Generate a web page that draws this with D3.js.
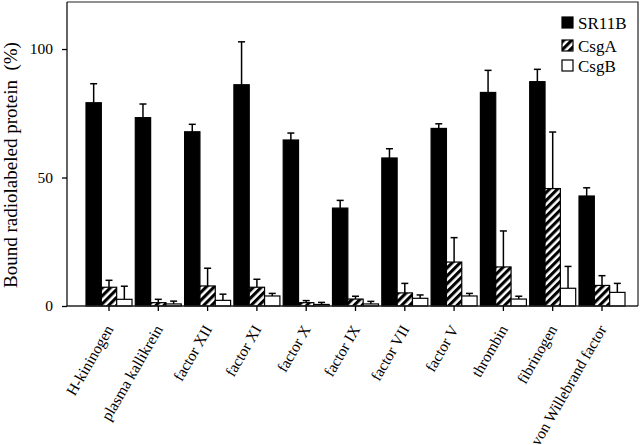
<!DOCTYPE html>
<html>
<head>
<meta charset="utf-8">
<script src="https://cdn.jsdelivr.net/npm/d3@7/dist/d3.min.js"></script>
<style>
  html, body { margin: 0; padding: 0; background: #fff; }
  svg { display: block; font-family: "Liberation Serif", "Times New Roman", serif; }
</style>
</head>
<body>
<svg id="chart" width="640" height="445"></svg>
<script>
const categories = ["H-kininogen", "plasma kallikrein", "factor XII", "factor XI", "factor X",
  "factor IX", "factor VII", "factor V", "thrombin", "fibrinogen", "von Willebrand factor"];
const seriesNames = ["SR11B", "CsgA", "CsgB"];
const sr11bValues = [79.1, 73.3, 67.8, 86.1, 64.6, 38.1, 57.6, 69.1, 83.1, 87.3, 42.8];
const sr11bErrors = [7.4, 5.3, 2.9, 16.7, 2.7, 3.0, 3.6, 1.8, 8.6, 4.8, 3.2];
const csgAValues = [7.3, 1.3, 7.8, 7.3, 1.3, 2.7, 5.1, 17.1, 15.2, 45.7, 8.0];
const csgAErrors = [2.7, 1.3, 6.9, 3.1, 0.8, 1.1, 3.7, 9.5, 14.0, 22.0, 3.8];
const csgBValues = [2.6, 0.8, 2.2, 3.9, 0.6, 0.8, 3.0, 3.9, 2.7, 6.9, 5.3];
const csgBErrors = [5.1, 1.1, 2.4, 1.0, 0.8, 1.0, 1.3, 1.0, 1.1, 8.5, 3.5];
const yTicks = [0, 50, 100];
const yLabel = "Bound radiolabeled protein\u00a0 (%)";

const seriesValues = [sr11bValues, csgAValues, csgBValues];
const seriesErrors = [sr11bErrors, csgAErrors, csgBErrors];
const fills = ["#000", "url(#hatch)", "#fff"];

const svg = d3.select("#chart");
const mLeft = 67, mRight = 638, mTop = 2, mBottom = 306;

const defs = svg.append("defs");
const pat = defs.append("pattern")
  .attr("id", "hatch").attr("patternUnits", "userSpaceOnUse")
  .attr("width", 5.6).attr("height", 5.6)
  .attr("patternTransform", "rotate(45)");
pat.append("rect").attr("width", 5.6).attr("height", 5.6).attr("fill", "#fff");
pat.append("rect").attr("width", 3.1).attr("height", 5.6).attr("fill", "#000");

const x0 = d3.scaleBand().domain(categories).range([86, 625])
  .paddingInner(0.067).paddingOuter(0);
const x1 = d3.scaleBand().domain(seriesNames).range([0, x0.bandwidth()]).padding(0);
const y = d3.scaleLinear().domain([0, 118.3]).range([mBottom, mTop]);

const rows = [];
categories.forEach((c, i) => {
  seriesNames.forEach((s, j) => {
    rows.push({cat: c, ser: s, j: j, v: seriesValues[j][i], e: seriesErrors[j][i]});
  });
});

// error bars
const eb = svg.append("g").attr("stroke", "#000").attr("stroke-width", 1.5);
rows.forEach(d => {
  const cx = x0(d.cat) + x1(d.ser) + x1.bandwidth() / 2;
  eb.append("line").attr("x1", cx).attr("x2", cx).attr("y1", y(d.v)).attr("y2", y(d.v + d.e));
  eb.append("line").attr("x1", cx - 3.5).attr("x2", cx + 3.5).attr("y1", y(d.v + d.e)).attr("y2", y(d.v + d.e));
});

svg.append("g").selectAll("rect").data(rows).join("rect")
  .attr("x", d => x0(d.cat) + x1(d.ser))
  .attr("y", d => y(d.v))
  .attr("width", x1.bandwidth())
  .attr("height", d => y(0) - y(d.v))
  .attr("fill", d => fills[d.j])
  .attr("stroke", "#000").attr("stroke-width", 1.2);

// frame
svg.append("path")
  .attr("d", `M${mLeft},${mTop}H${mRight}V${mBottom}`)
  .attr("fill", "none").attr("stroke", "#222").attr("stroke-width", 1.2);

// y axis
const yAxis = svg.append("g").attr("transform", `translate(${mLeft},0)`)
  .call(d3.axisLeft(y).tickValues(yTicks).tickSize(5).tickPadding(9).tickSizeOuter(0));
yAxis.select(".domain").attr("d", `M0,${mTop}V${mBottom}`).attr("stroke", "#222").attr("stroke-width", 1.4);
yAxis.selectAll(".tick line").attr("stroke-width", 1.3);
yAxis.selectAll("text").attr("font-size", 15.5).attr("font-family", "Liberation Serif").attr("fill", "#000");

// x axis
const xAxis = svg.append("g").attr("transform", `translate(0,${mBottom})`)
  .call(d3.axisBottom(x0).tickSize(5).tickSizeOuter(0));
xAxis.select(".domain").attr("d", `M${mLeft},0H${mRight}`).attr("stroke", "#222").attr("stroke-width", 1.4);
xAxis.selectAll(".tick line").attr("stroke-width", 1.3);
xAxis.selectAll("text")
  .attr("font-size", 15.5).attr("font-family", "Liberation Serif").attr("fill", "#000")
  .attr("text-anchor", "end")
  .attr("dy", null).attr("y", null)
  .attr("transform", "translate(5,23) rotate(-60)");

// y label
svg.append("text")
  .attr("transform", "translate(17,165) rotate(-90)")
  .attr("text-anchor", "middle")
  .attr("font-size", 19)
  .text(yLabel);

// legend
const legY = [17, 40, 60];
const leg = svg.append("g");
seriesNames.forEach((s, j) => {
  leg.append("rect").attr("x", 562).attr("y", legY[j]).attr("width", 11).attr("height", 11)
    .attr("fill", fills[j]).attr("stroke", "#000").attr("stroke-width", 1.2);
  leg.append("text").attr("x", 578).attr("y", legY[j] + 11.5)
    .attr("font-size", 17).text(s);
});
</script>
</body>
</html>
